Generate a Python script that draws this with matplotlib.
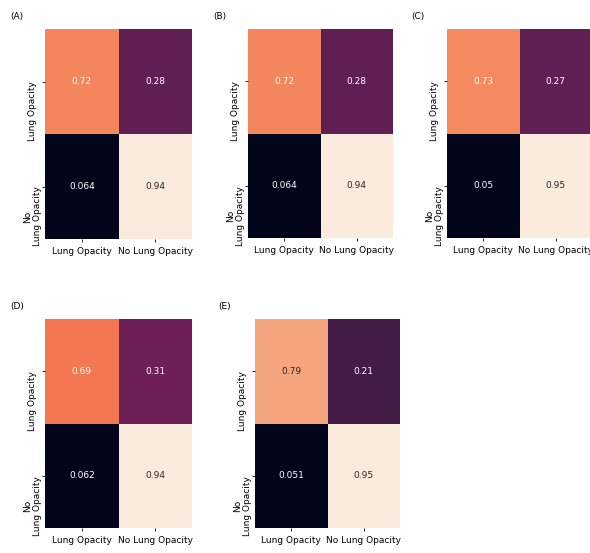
import matplotlib
matplotlib.use("Agg")
import matplotlib.pyplot as plt
import numpy as np
import seaborn as sns

labels = ["Lung Opacity", "No Lung Opacity"]
ylabels = ["Lung Opacity", "No\nLung Opacity"]
panels = ["(A)", "(B)", "(C)", "(D)", "(E)"]

cm_a = [[0.72, 0.28], [0.064, 0.94]]
cm_b = [[0.72, 0.28], [0.064, 0.94]]
cm_c = [[0.73, 0.27], [0.05, 0.95]]
cm_d = [[0.69, 0.31], [0.062, 0.94]]
cm_e = [[0.79, 0.21], [0.051, 0.95]]
matrices = [cm_a, cm_b, cm_c, cm_d, cm_e]

W, H = 590, 553
fig = plt.figure(figsize=(W / 100, H / 100), dpi=100)

# axes boxes in pixels: left, top, right, bottom
boxes = [(45, 29, 192, 239),
         (248, 29, 393, 238),
         (447, 29, 592, 238),
         (45, 319, 192, 528),
         (255, 319, 400, 528)]
label_pos = [(10, 16), (213, 16), (411, 16), (10, 306), (218, 306)]

for cm, name, box, lp in zip(matrices, panels, boxes, label_pos):
    l, t, r, b = box
    ax = fig.add_axes([l / W, 1 - b / H, (r - l) / W, (b - t) / H])
    sns.heatmap(np.array(cm), annot=True, cmap="rocket", cbar=False, ax=ax,
                xticklabels=labels, yticklabels=ylabels,
                annot_kws={"fontsize": 6.5})
    ax.tick_params(labelsize=6.5, length=2, width=0.6, pad=2)
    ax.set_xticklabels(labels, rotation=0)
    ax.set_yticklabels(ylabels, rotation=90, va="top", ha="center",
                       multialignment="center")
    ax.tick_params(axis="x", pad=4)
    ax.tick_params(axis="y", pad=7)
    fig.text(lp[0] / W, 1 - lp[1] / H, name, fontsize=6.5, va="center")

fig.savefig("out.png", dpi=100)
